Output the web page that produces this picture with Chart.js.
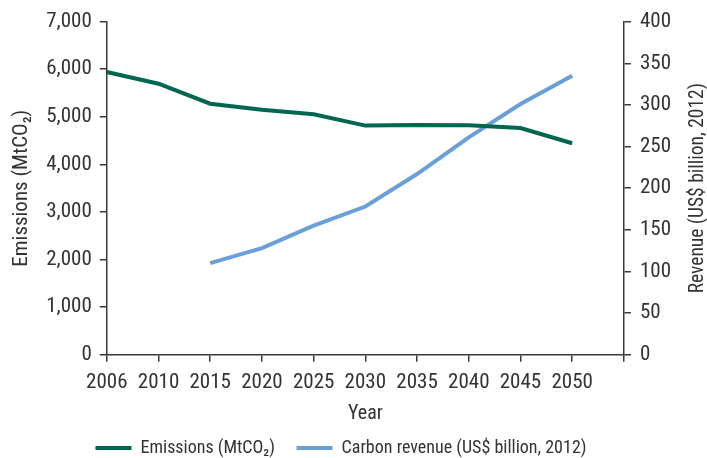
<!DOCTYPE html>
<html>
<head>
<meta charset="utf-8">
<script src="https://cdn.jsdelivr.net/npm/chart.js@4.4.1/dist/chart.umd.min.js"></script>
<style>
  html, body { margin: 0; padding: 0; background: #fff; }
  #wrap { width: 707px; height: 458px; }
</style>
</head>
<body>
<div id="wrap"><canvas id="chart" width="707" height="458"></canvas></div>
<script>
const years = ['2006', '2010', '2015', '2020', '2025', '2030', '2035', '2040', '2045', '2050', ''];
const emissions = [5940, 5695, 5275, 5150, 5055, 4815, 4830, 4820, 4765, 4445, null];
const carbonRevenue = [null, null, 110, 128, 155, 178, 217, 261, 301, 335, null];
const emissionTicks = [0, 1000, 2000, 3000, 4000, 5000, 6000, 7000];
const revenueTicks = [0, 50, 100, 150, 200, 250, 300, 350, 400];

const FONT = '"Roboto Condensed", "Liberation Sans Narrow", "Roboto", sans-serif';
const TEXT = '#333333';
const AXIS = '#3a3a3a';
const GREEN = '#00664f';
const BLUE = '#6a9fd8';

Chart.defaults.font.family = FONT;
Chart.defaults.font.size = 21;
Chart.defaults.color = TEXT;

// right-hand title reads bottom to top, so it is drawn by hand
const rightTitle = {
  id: 'rightTitle',
  afterDraw(chart) {
    const { ctx, chartArea } = chart;
    ctx.save();
    ctx.translate(698, (chartArea.top + chartArea.bottom) / 2);
    ctx.rotate(-Math.PI / 2);
    ctx.font = '19.5px ' + FONT;
    ctx.fillStyle = TEXT;
    ctx.textAlign = 'center';
    ctx.textBaseline = 'middle';
    ctx.fillText('Revenue (US$ billion, 2012)', 0, 0);
    ctx.restore();
  }
};

const axisGrid = {
  drawOnChartArea: false,
  drawTicks: true,
  tickLength: 7,
  color: AXIS,
  lineWidth: 1.5
};

new Chart(document.getElementById('chart'), {
  type: 'line',
  data: {
    labels: years,
    datasets: [
      {
        label: 'Emissions (MtCO\u2082)',
        data: emissions,
        yAxisID: 'y',
        borderColor: GREEN,
        backgroundColor: GREEN,
        borderWidth: 4,
        pointRadius: 0,
        tension: 0
      },
      {
        label: 'Carbon revenue (US$ billion, 2012)',
        data: carbonRevenue,
        yAxisID: 'y1',
        borderColor: BLUE,
        backgroundColor: BLUE,
        borderWidth: 4,
        pointRadius: 0,
        tension: 0
      }
    ]
  },
  options: {
    responsive: false,
    animation: false,
    layout: { padding: { top: 9, right: 27, left: 2, bottom: -9 } },
    plugins: {
      legend: {
        position: 'bottom',
        labels: {
          usePointStyle: true,
          pointStyle: 'line',
          pointStyleWidth: 36,
          padding: 5,
          color: TEXT,
          font: { size: 18 },
          // wider gap after the first entry
          generateLabels(chart) {
            const items = Chart.defaults.plugins.legend.labels.generateLabels(chart);
            items[0].text += '    ';
            return items;
          }
        }
      },
      tooltip: { enabled: false }
    },
    scales: {
      x: {
        offset: false,
        grid: axisGrid,
        border: { color: AXIS, width: 1.5 },
        ticks: { padding: 8, maxRotation: 0, autoSkip: false },
        title: { display: true, text: 'Year', font: { size: 20 }, padding: { top: -1, bottom: 8 } }
      },
      y: {
        position: 'left',
        min: 0,
        max: 7000,
        afterBuildTicks: (axis) => { axis.ticks = emissionTicks.map(v => ({ value: v })); },
        grid: axisGrid,
        border: { color: AXIS, width: 1.5 },
        ticks: { padding: 8, callback: (v) => v.toLocaleString('en-US') },
        title: { display: true, text: 'Emissions (MtCO\u2082)', padding: { top: 7, bottom: 4 } }
      },
      y1: {
        position: 'right',
        min: 0,
        max: 400,
        afterBuildTicks: (axis) => { axis.ticks = revenueTicks.map(v => ({ value: v })); },
        grid: axisGrid,
        border: { color: AXIS, width: 1.5 },
        ticks: { padding: 9 }
      }
    }
  },
  plugins: [rightTitle]
});
</script>
</body>
</html>
